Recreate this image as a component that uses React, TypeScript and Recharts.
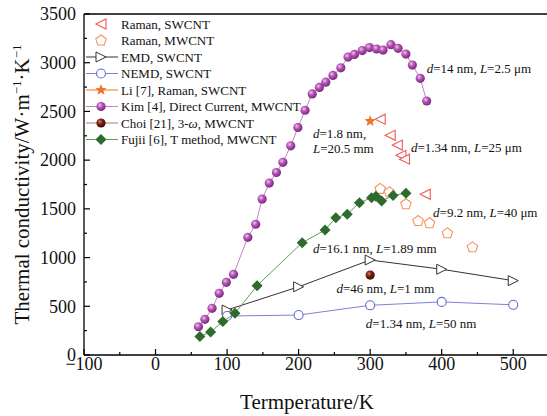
import React from "react";
import {
  ComposedChart,
  Scatter,
  XAxis,
  YAxis,
  ReferenceLine,
  ReferenceDot,
  Legend,
} from "recharts";

const SERIF = "'Liberation Serif', 'Times New Roman', serif";

// temperature (K) vs thermal conductivity (W/m/K)
const ramanSwcnt = [
  { t: 314, k: 2420 },
  { t: 328, k: 2255 },
  { t: 338, k: 2155 },
  { t: 343, k: 2050 },
  { t: 348, k: 2010 },
  { t: 377, k: 1650 },
];

const ramanMwcnt = [
  { t: 314, k: 1705 },
  { t: 327, k: 1670 },
  { t: 350, k: 1547 },
  { t: 367, k: 1375 },
  { t: 383, k: 1352 },
  { t: 408, k: 1249 },
  { t: 443, k: 1105 },
];

const emdSwcnt = [
  { t: 100, k: 462 },
  { t: 200, k: 700 },
  { t: 300, k: 975 },
  { t: 400, k: 880 },
  { t: 500, k: 763 },
];

const nemdSwcnt = [
  { t: 100, k: 400 },
  { t: 200, k: 410 },
  { t: 300, k: 510 },
  { t: 400, k: 545 },
  { t: 500, k: 515 },
];

const liRaman = [{ t: 300, k: 2400 }];

const kimDc = [
  { t: 60, k: 290 },
  { t: 69, k: 366 },
  { t: 79, k: 479 },
  { t: 89, k: 633 },
  { t: 99, k: 746 },
  { t: 109, k: 828 },
  { t: 129, k: 1208 },
  { t: 140, k: 1342 },
  { t: 149, k: 1600 },
  { t: 159, k: 1765 },
  { t: 169, k: 1873 },
  { t: 178, k: 1978 },
  { t: 189, k: 2147 },
  { t: 199, k: 2335 },
  { t: 209, k: 2512 },
  { t: 219, k: 2680 },
  { t: 229, k: 2746 },
  { t: 238, k: 2800 },
  { t: 248, k: 2870 },
  { t: 259, k: 2948 },
  { t: 269, k: 3058 },
  { t: 278, k: 3085 },
  { t: 289, k: 3125 },
  { t: 299, k: 3155 },
  { t: 309, k: 3141 },
  { t: 318, k: 3130 },
  { t: 329, k: 3185 },
  { t: 339, k: 3148 },
  { t: 350, k: 3089 },
  { t: 359, k: 2976 },
  { t: 370, k: 2840 },
  { t: 379, k: 2607 },
];

const choi3w = [{ t: 300, k: 820 }];

const fujiiT = [
  { t: 62, k: 190 },
  { t: 77, k: 236 },
  { t: 94, k: 344 },
  { t: 111, k: 428 },
  { t: 142, k: 712 },
  { t: 205, k: 1153 },
  { t: 237, k: 1283 },
  { t: 252, k: 1410 },
  { t: 268, k: 1445 },
  { t: 285, k: 1563 },
  { t: 302, k: 1615 },
  { t: 308, k: 1630 },
  { t: 316, k: 1581 },
  { t: 332, k: 1637 },
  { t: 350, k: 1660 },
];

const xTicks = [-100, -50, 0, 50, 100, 150, 200, 250, 300, 350, 400, 450, 500];
const yTicks = [0, 250, 500, 750, 1000, 1250, 1500, 1750, 2000, 2250, 2500, 2750, 3000, 3250, 3500];

// annotations placed at data coordinates
const notes = [
  { t: 379, k: 2946, d: "14 nm", l: "2.5 μm", split: false },
  { t: 220, k: 2279, d: "1.8 nm", l: "20.5 mm", split: true },
  { t: 357, k: 2135, d: "1.34 nm", l: "25 μm", split: false },
  { t: 388, k: 1468, d: "9.2 nm", l: "40 μm", split: false },
  { t: 220, k: 1098, d: "16.1 nm", l: "1.89 mm", split: false },
  { t: 253, k: 688, d: "46 nm", l: "1 mm", split: false },
  { t: 294, k: 328, d: "1.34 nm", l: "50 nm", split: false },
];

const C = {
  ramanSw: "#ef5a55",
  ramanMw: "#f5935c",
  emd: "#333333",
  nemd: "#6a6ad2",
  nemdLine: "#8080d8",
  li: "#f07424",
  kimLine: "#c384c6",
  choiLine: "#b47a70",
  fujii: "#2f6b2c",
  fujiiLine: "#5aa05a",
};

function LeftTri({ cx, cy }: any) {
  const s = 5;
  return (
    <polygon
      points={`${cx - s},${cy} ${cx + s},${cy - s} ${cx + s},${cy + s}`}
      fill="#fff"
      stroke={C.ramanSw}
      strokeWidth={1.1}
    />
  );
}

function RightTri({ cx, cy }: any) {
  const s = 5;
  return (
    <polygon
      points={`${cx + s},${cy} ${cx - s},${cy - s} ${cx - s},${cy + s}`}
      fill="#fff"
      stroke={C.emd}
      strokeWidth={1}
    />
  );
}

function Pentagon({ cx, cy }: any) {
  const r = 5.5;
  const pts = [0, 1, 2, 3, 4]
    .map((i) => {
      const a = -Math.PI / 2 + (i * 2 * Math.PI) / 5;
      return `${cx + r * Math.cos(a)},${cy + r * Math.sin(a)}`;
    })
    .join(" ");
  return <polygon points={pts} fill="#fff" stroke={C.ramanMw} strokeWidth={1.1} />;
}

function OpenCircle({ cx, cy }: any) {
  return <circle cx={cx} cy={cy} r={4.5} fill="#fff" stroke={C.nemd} strokeWidth={1.1} />;
}

function Star({ cx, cy }: any) {
  const ro = 6;
  const ri = 2.6;
  const pts = [];
  for (let i = 0; i < 10; i++) {
    const a = -Math.PI / 2 + (i * Math.PI) / 5;
    const r = i % 2 === 0 ? ro : ri;
    pts.push(`${cx + r * Math.cos(a)},${cy + r * Math.sin(a)}`);
  }
  return <polygon points={pts.join(" ")} fill={C.li} />;
}

function KimBall({ cx, cy }: any) {
  return <circle cx={cx} cy={cy} r={4.6} fill="url(#kimGrad)" />;
}

function ChoiBall({ cx, cy }: any) {
  return <circle cx={cx} cy={cy} r={4.6} fill="url(#choiGrad)" />;
}

function Diamond({ cx, cy }: any) {
  const s = 5.5;
  return (
    <polygon
      points={`${cx},${cy - s} ${cx + s},${cy} ${cx},${cy + s} ${cx - s},${cy}`}
      fill={C.fujii}
    />
  );
}

function Gradients() {
  return (
    <defs>
      <radialGradient id="kimGrad" cx="38%" cy="35%" r="65%">
        <stop offset="0%" stopColor="#f0c4f0" />
        <stop offset="45%" stopColor="#b452b4" />
        <stop offset="100%" stopColor="#7a2a7e" />
      </radialGradient>
      <radialGradient id="choiGrad" cx="38%" cy="35%" r="65%">
        <stop offset="0%" stopColor="#d08070" />
        <stop offset="45%" stopColor="#7a1e14" />
        <stop offset="100%" stopColor="#3e0a06" />
      </radialGradient>
    </defs>
  );
}

const legendItems = [
  { name: "Raman, SWCNT", Shape: LeftTri, line: null },
  { name: "Raman, MWCNT", Shape: Pentagon, line: null },
  { name: "EMD, SWCNT", Shape: RightTri, line: C.emd },
  { name: "NEMD, SWCNT", Shape: OpenCircle, line: C.nemdLine },
  { name: "Li [7], Raman, SWCNT", Shape: Star, line: C.li },
  { name: "Kim [4], Direct Current, MWCNT", Shape: KimBall, line: C.kimLine },
  { name: "Choi [21], 3-ω, MWCNT", Shape: ChoiBall, line: C.choiLine },
  { name: "Fujii [6], T method, MWCNT", Shape: Diamond, line: C.fujiiLine },
];

function LegendBox() {
  return (
    <svg width={240} height={140} style={{ display: "block" }}>
      {legendItems.map((it, i) => {
        const y = 10 + i * 16.5;
        const label =
          it.name.indexOf("ω") >= 0 ? (
            <>
              Choi [21], 3-<tspan fontStyle="italic">ω</tspan>, MWCNT
            </>
          ) : (
            it.name
          );
        return (
          <g key={it.name}>
            {it.line && <line x1={2} x2={34} y1={y} y2={y} stroke={it.line} strokeWidth={1} />}
            <it.Shape cx={17} cy={y} />
            <text x={37} y={y} dy="0.35em" fontSize={13} fontFamily={SERIF} fill="#111">
              {label}
            </text>
          </g>
        );
      })}
    </svg>
  );
}

function fmt(v: number) {
  return v < 0 ? `\u2212${Math.abs(v)}` : String(v);
}

function XTick({ x, y, payload }: any) {
  const v = payload.value;
  const major = v % 100 === 0;
  return (
    <g>
      <line x1={x} x2={x} y1={y} y2={y - (major ? 6 : 3)} stroke="#000" strokeWidth={1.2} />
      {major && (
        <text x={x} y={y + 15} textAnchor="middle" fontSize={18} fontFamily={SERIF} fill="#111">
          {fmt(v)}
        </text>
      )}
    </g>
  );
}

function YTick({ x, y, payload }: any) {
  const v = payload.value;
  const major = v % 500 === 0;
  return (
    <g>
      <line x1={x} x2={x + (major ? 6 : 3)} y1={y} y2={y} stroke="#000" strokeWidth={1.2} />
      {major && (
        <text x={x - 8} y={y} dy="0.35em" textAnchor="end" fontSize={18} fontFamily={SERIF} fill="#111">
          {v}
        </text>
      )}
    </g>
  );
}

function XTitle({ viewBox }: any) {
  return (
    <text
      x={viewBox.x + 223}
      y={viewBox.y + 54}
      textAnchor="middle"
      fontSize={21}
      fontFamily={SERIF}
      fill="#111"
    >
      Termperature/K
    </text>
  );
}

function YTitle({ viewBox }: any) {
  const cx = 22;
  const cy = viewBox.y + viewBox.height / 2;
  return (
    <text
      transform={`translate(${cx},${cy}) rotate(-90)`}
      x={0}
      y={0}
      dy="0.35em"
      textAnchor="middle"
      fontSize={21}
      fontFamily={SERIF}
      fill="#111"
    >
      Thermal conductivity/W·m
      <tspan fontSize={13} dy={-8}>−1</tspan>
      <tspan dy={8}>·K</tspan>
      <tspan fontSize={13} dy={-8}>−1</tspan>
    </text>
  );
}

function noteLabel(n: (typeof notes)[number]) {
  return ({ viewBox }: any) => {
    const x = viewBox.x;
    const y = viewBox.y;
    const dPart = (
      <>
        <tspan fontStyle="italic">d</tspan>
        <tspan fontStyle="normal">={n.d},</tspan>
      </>
    );
    if (n.split) {
      return (
        <text x={x} y={y} dy="0.35em" fontSize={13} fontFamily={SERIF} fill="#111">
          {dPart}
          <tspan x={x} dy={15} fontStyle="italic">L</tspan>
          <tspan>={n.l}</tspan>
        </text>
      );
    }
    return (
      <text x={x} y={y} dy="0.35em" fontSize={13} fontFamily={SERIF} fill="#111">
        {dPart}
        <tspan> </tspan>
        <tspan fontStyle="italic">L</tspan>
        <tspan>={n.l}</tspan>
      </text>
    );
  };
}

export default function App() {
  return (
    <div style={{ position: "absolute", left: 0, top: 0, width: 547, height: 416, overflow: "hidden", background: "#fff" }}>
      <ComposedChart width={560} height={416} margin={{ top: 14, right: 11, bottom: 11, left: 0 }}>
        <Gradients />
        <XAxis
          type="number"
          dataKey="t"
          domain={[-100, 550]}
          ticks={xTicks}
          interval={0}
          tickSize={0}
          tickMargin={0}
          tickLine={false}
          tick={<XTick />}
          axisLine={{ stroke: "#000", strokeWidth: 1.3 }}
          height={50}
          allowDataOverflow
          label={{ content: XTitle }}
        />
        <YAxis
          type="number"
          dataKey="k"
          domain={[0, 3500]}
          ticks={yTicks}
          interval={0}
          tickSize={0}
          tickMargin={0}
          tickLine={false}
          tick={<YTick />}
          axisLine={{ stroke: "#000", strokeWidth: 1.3 }}
          width={84}
          allowDataOverflow
          label={{ content: YTitle }}
        />
        <ReferenceLine y={3500} stroke="#000" strokeWidth={1.3} />
        <Legend
          layout="horizontal"
          align="center"
          verticalAlign="middle"
          wrapperStyle={{ position: "absolute", left: 84, top: 14, width: 240, height: 140 }}
          content={() => <LegendBox />}
        />
        <Scatter name="Raman, SWCNT" data={ramanSwcnt} shape={LeftTri} isAnimationActive={false} />
        <Scatter name="Raman, MWCNT" data={ramanMwcnt} shape={Pentagon} isAnimationActive={false} />
        <Scatter
          name="EMD, SWCNT"
          data={emdSwcnt}
          shape={RightTri}
          line={{ stroke: C.emd, strokeWidth: 1 }}
          isAnimationActive={false}
        />
        <Scatter
          name="NEMD, SWCNT"
          data={nemdSwcnt}
          shape={OpenCircle}
          line={{ stroke: C.nemdLine, strokeWidth: 1 }}
          isAnimationActive={false}
        />
        <Scatter name="Li [7], Raman, SWCNT" data={liRaman} shape={Star} isAnimationActive={false} />
        <Scatter
          name="Kim [4], Direct Current, MWCNT"
          data={kimDc}
          shape={KimBall}
          line={{ stroke: C.kimLine, strokeWidth: 1 }}
          isAnimationActive={false}
        />
        <Scatter name="Choi [21], 3-ω, MWCNT" data={choi3w} shape={ChoiBall} isAnimationActive={false} />
        <Scatter
          name="Fujii [6], T method, MWCNT"
          data={fujiiT}
          shape={Diamond}
          line={{ stroke: C.fujiiLine, strokeWidth: 1 }}
          isAnimationActive={false}
        />
        {notes.map((n, i) => (
          <ReferenceDot
            key={i}
            x={n.t}
            y={n.k}
            r={0}
            fill="none"
            stroke="none"
            ifOverflow="visible"
            label={{ content: noteLabel(n) }}
          />
        ))}
      </ComposedChart>
    </div>
  );
}
